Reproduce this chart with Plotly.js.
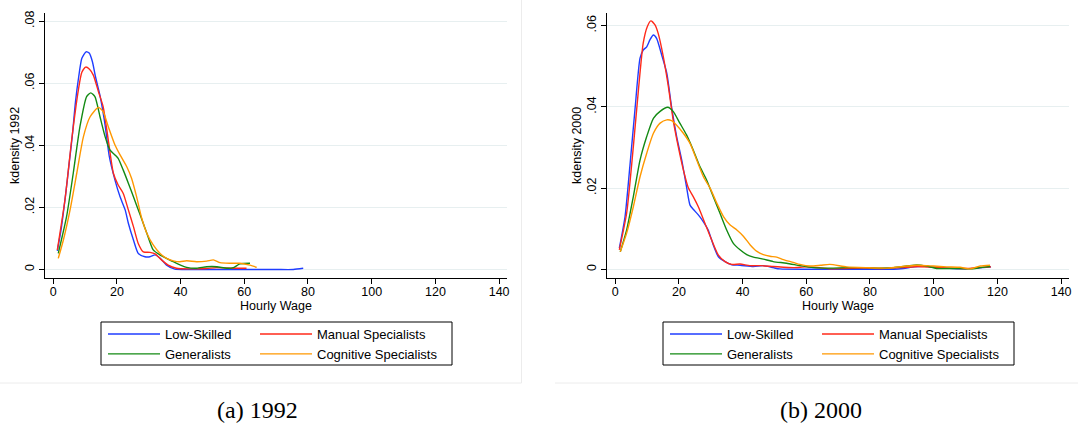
<!DOCTYPE html>
<html>
<head>
<meta charset="utf-8">
<script src="https://cdn.plot.ly/plotly-3.0.1.min.js"></script>
<style>html,body{margin:0;padding:0;background:#fff;}#chart{width:1078px;height:427px;}</style>
</head>
<body>
<div id="chart"></div>
<script>
// ---------- DATA ----------
const seriesNames = ["Low-Skilled", "Manual Specialists", "Generalists", "Cognitive Specialists"];
const panelCaptions = ["(a) 1992", "(b) 2000"];
const yTitles = ["kdensity 1992", "kdensity 2000"];
const xTitle = "Hourly Wage";
const xTickVals = [0, 20, 40, 60, 80, 100, 120, 140];
const yTickVals1992 = [0, 0.02, 0.04, 0.06, 0.08];
const yTickText1992 = ["0", ".02", ".04", ".06", ".08"];
const yTickVals2000 = [0, 0.02, 0.04, 0.06];
const yTickText2000 = ["0", ".02", ".04", ".06"];

// 1992
const wage92Low = [1.3,2.5,4.0,5.0,6.0,7.0,8.0,9.0,10.3,11.3,12.3,13.3,14.7,16.3,17.6,19.4,21.0,22.6,23.6,25.2,26.7,28.8,30.4,32.0,33.5,35.6,38.2,42,50,60,70,75.4,78.5];
const dens92Low = [.0060,.0130,.0250,.0340,.0430,.0540,.0620,.0680,.0701,.0697,.0670,.0620,.0560,.0465,.0365,.0288,.0234,.0192,.0149,.0095,.0052,.0041,.0041,.0047,.0037,.0014,.0001,0,0,0,0,0,.0004];
const wage92Man = [1.3,3.7,5.8,7.9,9.0,10.2,11.4,12.6,14.2,15.7,17.3,18.9,20.4,22.0,23.6,25.2,26.7,28.3,30.4,32.0,34.0,36.1,38.7,42.9,48.1,51.2,56.5,60.7];
const dens92Man = [.0063,.0224,.0417,.0578,.0635,.0652,.0645,.0626,.0573,.0524,.0417,.0310,.0272,.0245,.0192,.0138,.0084,.0057,.0055,.0050,.0031,.0014,.0004,.0002,.0003,.0006,.0004,.0004];
const wage92Gen = [1.6,4.2,6.3,8.4,10.5,11.8,13.1,14.7,16.3,17.8,19.4,20.4,22.0,23.6,25.2,27.3,29.4,31.4,33.5,35.6,37.7,39.8,41.9,45.0,48.2,51.4,54.5,56.6,58.6,61.8];
const dens92Gen = [.0052,.0170,.0310,.0460,.0557,.0569,.0557,.0492,.0428,.0385,.0369,.0358,.0320,.0278,.0234,.0176,.0117,.0063,.0047,.0036,.0025,.0015,.0007,.0004,.0009,.0009,.0004,.0006,.0018,.0020];
const wage92Cog = [1.6,3.2,5.3,7.4,9.5,11.6,14.2,15.7,17.3,19.4,21.0,23.1,24.6,26.2,27.8,29.4,31.4,33.5,35.6,37.7,39.8,41.9,45.0,48.2,50.3,52.4,55.5,58.6,61.8,63.9];
const dens92Cog = [.0036,.0095,.0192,.0310,.0428,.0492,.0522,.0508,.0460,.0401,.0369,.0331,.0294,.0234,.0165,.0117,.0079,.0052,.0036,.0028,.0025,.0028,.0025,.0027,.0031,.0022,.0020,.0020,.0014,.0007];

// 2000
const wage00Low = [1.3,3.1,4.6,6.2,7.8,8.8,9.9,10.9,12.0,13.0,14.6,16.2,17.7,19.3,20.9,22.4,23.5,24.5,26.1,27.7,29.2,30.8,32.4,34.5,36.6,39.2,43.4,46.5,49.6,51.7,60,70,80,87.4,90.5,94,98,102,106,110,114,118];
const dens00Low = [.0052,.0130,.0253,.0392,.0520,.0540,.0548,.0565,.0577,.0569,.0528,.0483,.0400,.0327,.0269,.0203,.0158,.0148,.0134,.0117,.0097,.0060,.0031,.0019,.0011,.0010,.0007,.0009,.0004,.0001,0,0,0,0,.0002,.0006,.0007,.0004,.0002,.0001,.0003,.0006];
const wage00Man = [1.3,3.6,5.7,7.3,8.8,10.1,11.2,12.5,13.5,15.1,16.7,18.2,19.8,21.4,23.0,24.5,26.1,28.2,30.3,32.4,34.5,36.6,39.2,42.3,45.5,49.6,55.9,60.0,64,67.6,72,78,84,90,95,100,105,110,114,118];
const dens00Man = [.0048,.0138,.0302,.0442,.0557,.0598,.0612,.0602,.0581,.0524,.0450,.0368,.0302,.0245,.0200,.0179,.0154,.0113,.0072,.0035,.0019,.0012,.0013,.0009,.0009,.0007,.0004,.0006,.0004,.0001,.0002,.0003,.0002,.0004,.0007,.0005,.0003,.0002,.0004,.0006];
const wage00Gen = [1.6,3.6,5.7,7.8,9.9,12.0,14.1,16.5,18.2,20.3,22.4,24.5,26.6,28.7,30.8,32.9,35.0,37.1,39.2,41.3,43.4,46.5,49.6,53.8,58.0,62.2,67.4,72.7,79.0,83.2,87.4,91.5,94.7,97.8,100.9,106.2,111.4,114.6,117.7];
const dens00Gen = [.0043,.0097,.0179,.0269,.0327,.0372,.0389,.0399,.0389,.0360,.0331,.0294,.0253,.0220,.0179,.0138,.0097,.0064,.0048,.0036,.0030,.0025,.0019,.0015,.0009,.0004,.0003,.0004,.0004,.0003,.0004,.0008,.0011,.0008,.0002,.0002,.0001,.0004,.0007];
const wage00Cog = [1.6,3.6,5.7,7.8,9.9,12.0,14.1,16.2,17.7,19.3,21.4,23.5,25.6,27.7,29.8,31.9,34.0,36.1,38.2,40.3,42.4,44.5,46.5,48.6,50.7,52.8,55.9,58.0,61.2,64.5,67.4,72.7,79.0,85.3,91.5,94.7,99.9,104.1,108.3,111.4,114.6,117.7];
const dens00Cog = [.0043,.0089,.0154,.0228,.0286,.0335,.0360,.0368,.0366,.0355,.0335,.0310,.0269,.0228,.0200,.0163,.0130,.0109,.0097,.0081,.0060,.0044,.0036,.0032,.0030,.0024,.0017,.0012,.0008,.0010,.0012,.0006,.0004,.0003,.0008,.0010,.0008,.0006,.0005,.0001,.0008,.0010];

// ---------- STYLE / LAYOUT ----------
const W = 1078, H = 427;
const colors = ["#1f3dff", "#ff2a1a", "#138a13", "#ff9800"];
const FONT = "Liberation Sans, Arial, Helvetica, sans-serif";
const px = v => v / W;
const py = v => 1 - v / H;

const panels = [
  {xs:[wage92Low,wage92Man,wage92Gen,wage92Cog], ys:[dens92Low,dens92Man,dens92Gen,dens92Cog], legends:["legend","legend2"], off:0},
  {xs:[wage00Low,wage00Man,wage00Gen,wage00Cog], ys:[dens00Low,dens00Man,dens00Gen,dens00Cog], legends:["legend3","legend4"], off:562}
];

const traces = [];
panels.forEach((p, pi) => {
  for (let i = 0; i < 4; i++) {
    traces.push({
      type: "scatter", mode: "lines",
      x: p.xs[i], y: p.ys[i],
      name: seriesNames[i],
      xaxis: pi === 0 ? "x" : "x2",
      yaxis: pi === 0 ? "y" : "y2",
      line: {color: colors[i], width: 1.4, shape: "spline", smoothing: 0.6},
      legend: (i === 0 || i === 2) ? p.legends[0] : p.legends[1],
      hoverinfo: "skip"
    });
  }
});

const xRange = [-2.57, 142.48];
function xAxis(domain, anchor) {
  return {
    domain: domain, anchor: anchor, range: xRange,
    tickvals: xTickVals, ticks: "outside", ticklen: 5, tickcolor: "#000", tickwidth: 1,
    ticklabelstandoff: -3,
    showline: true, linecolor: "#000", linewidth: 1, showgrid: false, zeroline: false,
    tickfont: {family: FONT, size: 12.5, color: "#000"},
    title: {text: xTitle, font: {family: FONT, size: 12.5, color: "#000"}, standoff: 1},
    fixedrange: true
  };
}
function yAxis(domain, anchor, range, vals, text, title) {
  return {
    domain: domain, anchor: anchor, range: range,
    tickvals: vals, ticktext: text, tickangle: -90,
    ticks: "outside", ticklen: 5, tickcolor: "#000", tickwidth: 1,
    showline: true, linecolor: "#000", linewidth: 1,
    showgrid: true, gridcolor: "#e7eff0", gridwidth: 1, zeroline: false,
    tickfont: {family: FONT, size: 12.5, color: "#000"},
    title: {text: title, font: {family: FONT, size: 12.5, color: "#000"}, standoff: 0},
    fixedrange: true
  };
}

const yDom = [py(277.7), py(13)];
function legendAt(x, y) {
  return {
    x: px(x), y: py(y), xanchor: "left", yanchor: "top",
    orientation: "v", bgcolor: "rgba(0,0,0,0)", borderwidth: 0,
    font: {family: FONT, size: 13, color: "#000"},
    itemwidth: 52, tracegroupgap: 0, itemclick: false, itemdoubleclick: false
  };
}

const shapes = [];
panels.forEach(p => {
  shapes.push({type: "rect", xref: "paper", yref: "paper",
    x0: px(101 + p.off), x1: px(452 + p.off), y0: py(365), y1: py(322),
    line: {color: "#000", width: 1}, fillcolor: "rgba(0,0,0,0)"});
});
// faint panel frames
shapes.push({type: "line", xref: "paper", yref: "paper", x0: px(521.5), x1: px(521.5), y0: py(383), y1: 1, line: {color: "#ececec", width: 1}});
shapes.push({type: "line", xref: "paper", yref: "paper", x0: 0, x1: px(521.5), y0: py(383), y1: py(383), line: {color: "#ececec", width: 1}});
shapes.push({type: "line", xref: "paper", yref: "paper", x0: px(555), x1: 1, y0: py(383), y1: py(383), line: {color: "#ececec", width: 1}});

const annotations = [
  {text: panelCaptions[0], xref: "paper", yref: "paper", x: px(257), y: py(410), xanchor: "center", yanchor: "middle", showarrow: false,
   font: {family: "Liberation Serif, DejaVu Serif, serif", size: 24, color: "#000"}},
  {text: panelCaptions[1], xref: "paper", yref: "paper", x: px(821), y: py(410), xanchor: "center", yanchor: "middle", showarrow: false,
   font: {family: "Liberation Serif, DejaVu Serif, serif", size: 24, color: "#000"}}
];

const layout = {
  width: W, height: H,
  margin: {l: 0, r: 0, t: 0, b: 0, pad: 0},
  paper_bgcolor: "#fff", plot_bgcolor: "#fff",
  font: {family: FONT, color: "#000"},
  showlegend: true,
  xaxis: xAxis([px(45), px(507)], "y"),
  yaxis: yAxis(yDom, "x", [-0.00264, 0.08261], yTickVals1992, yTickText1992, yTitles[0]),
  xaxis2: xAxis([px(607), px(1069)], "y2"),
  yaxis2: yAxis(yDom, "x2", [-0.00207, 0.06313], yTickVals2000, yTickText2000, yTitles[1]),
  legend: legendAt(103, 319),
  legend2: legendAt(255, 319),
  legend3: legendAt(103 + 562, 319),
  legend4: legendAt(255 + 562, 319),
  shapes: shapes,
  annotations: annotations
};

Plotly.newPlot("chart", traces, layout, {displayModeBar: false, staticPlot: true});
</script>
</body>
</html>
